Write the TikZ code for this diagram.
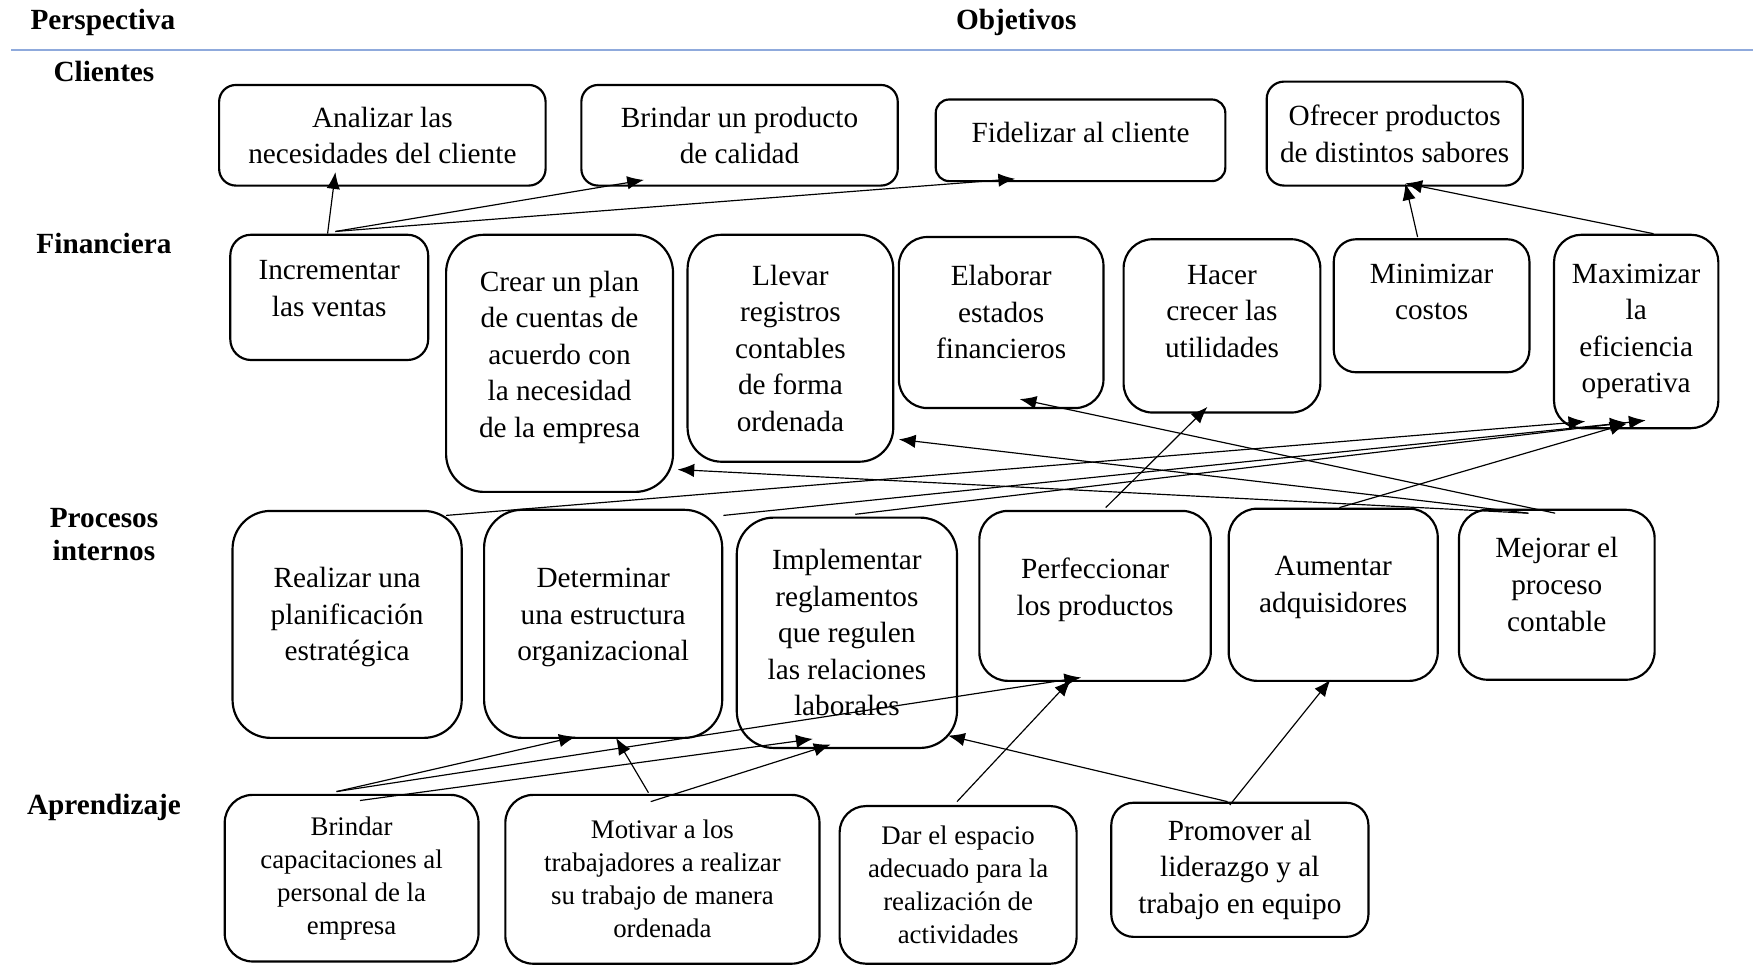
\documentclass[tikz,border=0pt]{standalone}
\usepackage{fontspec}
\setmainfont{Liberation Serif}
\usepackage{tikz}
\usetikzlibrary{arrows.meta,calc,positioning}
\definecolor{sepline}{RGB}{143,170,220}

\begin{document}
\begin{tikzpicture}[
  obj/.style={draw, line width=1.1pt, align=center, inner sep=2pt,
    font=\fontsize{14.9}{18.6}\selectfont},
  objs/.style={obj, font=\fontsize{13.65}{16.8}\selectfont},
  persp/.style={align=center, font=\fontsize{14.9}{17}\selectfont\bfseries},
  arr/.style={-{Latex[length=3mm,width=2.4mm]}, line width=0.6pt}]
\useasboundingbox (0,0) rectangle (31.36,17.28);
% --- encabezado ---
\node[persp] (hpersp) at (1.84,16.88) {Perspectiva};
\node[persp] (hobj) at (18.18,16.88) {Objetivos};
\draw[line width=1.1pt, sepline] (0.2,16.38) -- (31.36,16.38);
% --- clientes ---
\node[persp] (hcli) at (1.86,16.0) {Clientes};
\node[obj, minimum width=5.84cm, minimum height=1.80cm, rounded corners=0.30cm] (analizar) at (6.84,14.86) {Analizar las\\necesidades del cliente};
\node[obj, minimum width=5.66cm, minimum height=1.80cm, rounded corners=0.30cm] (brindarp) at (13.23,14.86) {Brindar un producto\\de calidad};
\node[obj, minimum width=5.18cm, minimum height=1.46cm, rounded corners=0.24cm] (fidel) at (19.33,14.77) {Fidelizar al cliente\\[-10.8pt]};
\node[obj, minimum width=4.58cm, minimum height=1.86cm, rounded corners=0.31cm] (ofrecer) at (24.95,14.89) {Ofrecer productos\\de distintos sabores};
% --- financiera ---
\node[persp] (hfin) at (1.86,12.92) {Financiera};
\node[obj, minimum width=3.54cm, minimum height=2.24cm, rounded corners=0.37cm] (incr) at (5.89,11.96) {Incrementar\\las ventas\\[-9.7pt]};
\node[obj, minimum width=4.06cm, minimum height=4.60cm, rounded corners=0.68cm] (crear) at (10.01,10.78) {Crear un plan\\de cuentas de\\acuerdo con\\la necesidad\\de la empresa\\[-9.1pt]};
\node[obj, minimum width=3.68cm, minimum height=4.06cm, rounded corners=0.61cm] (llevar) at (14.14,11.05) {Llevar\\registros\\contables\\de forma\\ordenada};
\node[obj, minimum width=3.66cm, minimum height=3.06cm, rounded corners=0.51cm] (elab) at (17.91,11.51) {Elaborar\\estados\\financieros\\[-8pt]};
\node[obj, minimum width=3.52cm, minimum height=3.10cm, rounded corners=0.52cm] (hacer) at (21.86,11.45) {Hacer\\crecer las\\utilidades\\[-3.4pt]};
\node[obj, minimum width=3.50cm, minimum height=2.38cm, rounded corners=0.40cm] (minim) at (25.61,11.81) {Minimizar\\costos\\[-4.6pt]};
\node[obj, minimum width=2.94cm, minimum height=3.46cm, rounded corners=0.49cm] (maxim) at (29.27,11.35) {Maximizar\\la\\eficiencia\\operativa};
% --- procesos internos ---
\node[persp] (hproc) at (1.86,7.72) {Procesos\\internos};
\node[obj, minimum width=4.10cm, minimum height=4.06cm, rounded corners=0.68cm] (realizar) at (6.21,6.11) {Realizar una\\planificación\\estratégica\\[-8pt]};
\node[obj, minimum width=4.26cm, minimum height=4.08cm, rounded corners=0.68cm] (determ) at (10.79,6.12) {Determinar\\una estructura\\organizacional\\[-9.1pt]};
\node[obj, minimum width=3.94cm, minimum height=4.12cm, rounded corners=0.66cm] (implem) at (15.15,5.96) {Implementar\\reglamentos\\que regulen\\las relaciones\\laborales};
\node[obj, minimum width=4.14cm, minimum height=3.04cm, rounded corners=0.51cm] (perfec) at (19.59,6.62) {Perfeccionar\\los productos\\[-9.1pt]};
\node[obj, minimum width=3.74cm, minimum height=3.08cm, rounded corners=0.51cm] (aument) at (23.85,6.64) {Aumentar\\adquisidores\\[-8pt]};
\node[obj, minimum width=3.50cm, minimum height=3.04cm, rounded corners=0.51cm] (mejorar) at (27.85,6.64) {Mejorar el\\proceso\\contable\\[-8pt]};
% --- aprendizaje ---
\node[persp] (hapr) at (1.86,2.84) {Aprendizaje};
\node[objs, minimum width=4.54cm, minimum height=2.98cm, rounded corners=0.50cm] (brindarc) at (6.29,1.57) {Brindar\\capacitaciones al\\personal de la\\empresa};
\node[objs, minimum width=5.62cm, minimum height=3.02cm, rounded corners=0.50cm] (motivar) at (11.85,1.55) {Motivar a los\\trabajadores a realizar\\su trabajo de manera\\ordenada};
\node[objs, minimum width=4.24cm, minimum height=2.82cm, rounded corners=0.47cm] (dar) at (17.14,1.45) {Dar el espacio\\adecuado para la\\realización de\\actividades};
\node[obj, minimum width=4.60cm, minimum height=2.40cm, rounded corners=0.40cm] (promover) at (22.18,1.72) {Promover al\\liderazgo y al\\trabajo en equipo};
% --- relaciones entre objetivos ---
\draw[arr] ($(incr.north)+(-0.03,0)$) -- ($(analizar.south)+(-0.84,0.26)$);
\draw[arr] ($(incr.north)+(0.11,0.04)$) -- ($(brindarp.south)+(-1.71,0.12)$);
\draw[arr] ($(incr.north)+(0.11,0.04)$) -- ($(fidel.south)+(-1.17,0.06)$);
\draw[arr] ($(minim.north)+(-0.25,0.02)$) -- ($(ofrecer.south)+(0.19,0.06)$);
\draw[arr] ($(maxim.north)+(0.31,0)$) -- ($(ofrecer.south)+(0.19,0.06)$);
\draw[arr] ($(realizar.north)+(1.77,-0.10)$) -- ($(maxim.south)+(-0.91,0.14)$);
\draw[arr] ($(determ.north)+(2.15,-0.12)$) -- ($(maxim.south)+(-0.17,0.12)$);
\draw[arr] ($(implem.north)+(0.15,0.04)$) -- ($(maxim.south)+(0.17,0.16)$);
\draw[arr] ($(aument.north)+(0.11,0)$) -- ($(maxim.south)+(-0.17,0.10)$);
\draw[arr] ($(mejorar.north)+(-0.51,-0.08)$) -- ($(crear.east)+(0.06,-1.90)$);
\draw[arr] ($(mejorar.north)+(-0.51,-0.08)$) -- ($(llevar.east)+(0.08,-1.63)$);
\draw[arr] ($(mejorar.north)+(-0.03,-0.08)$) -- ($(elab.south)+(0.33,0.18)$);
\draw[arr] ($(perfec.north)+(0.19,0.04)$) -- ($(hacer.south)+(-0.26,0.12)$);
\draw[arr] ($(brindarc.north)+(-0.27,0.04)$) -- ($(determ.south)+(-0.49,0.04)$);
\draw[arr] ($(brindarc.north)+(-0.27,0.04)$) -- ($(perfec.south)+(-0.25,0.08)$);
\draw[arr] ($(brindarc.north)+(0.15,-0.12)$) -- ($(implem.south)+(-0.61,0.18)$);
\draw[arr] ($(motivar.north)+(-0.25,0.02)$) -- ($(determ.south)+(0.23,0.02)$);
\draw[arr] ($(motivar.north)+(-0.21,-0.14)$) -- ($(implem.south)+(-0.29,0.08)$);
\draw[arr] ($(dar.north)+(-0.02,0.06)$) -- ($(perfec.south)+(-0.43,0.04)$);
\draw[arr] ($(promover.north)+(-0.22,0)$) -- ($(implem.south)+(1.81,0.24)$);
\draw[arr] ($(promover.north)+(-0.18,-0.06)$) -- ($(aument.south)+(-0.05,0.04)$);
\end{tikzpicture}
\end{document}
